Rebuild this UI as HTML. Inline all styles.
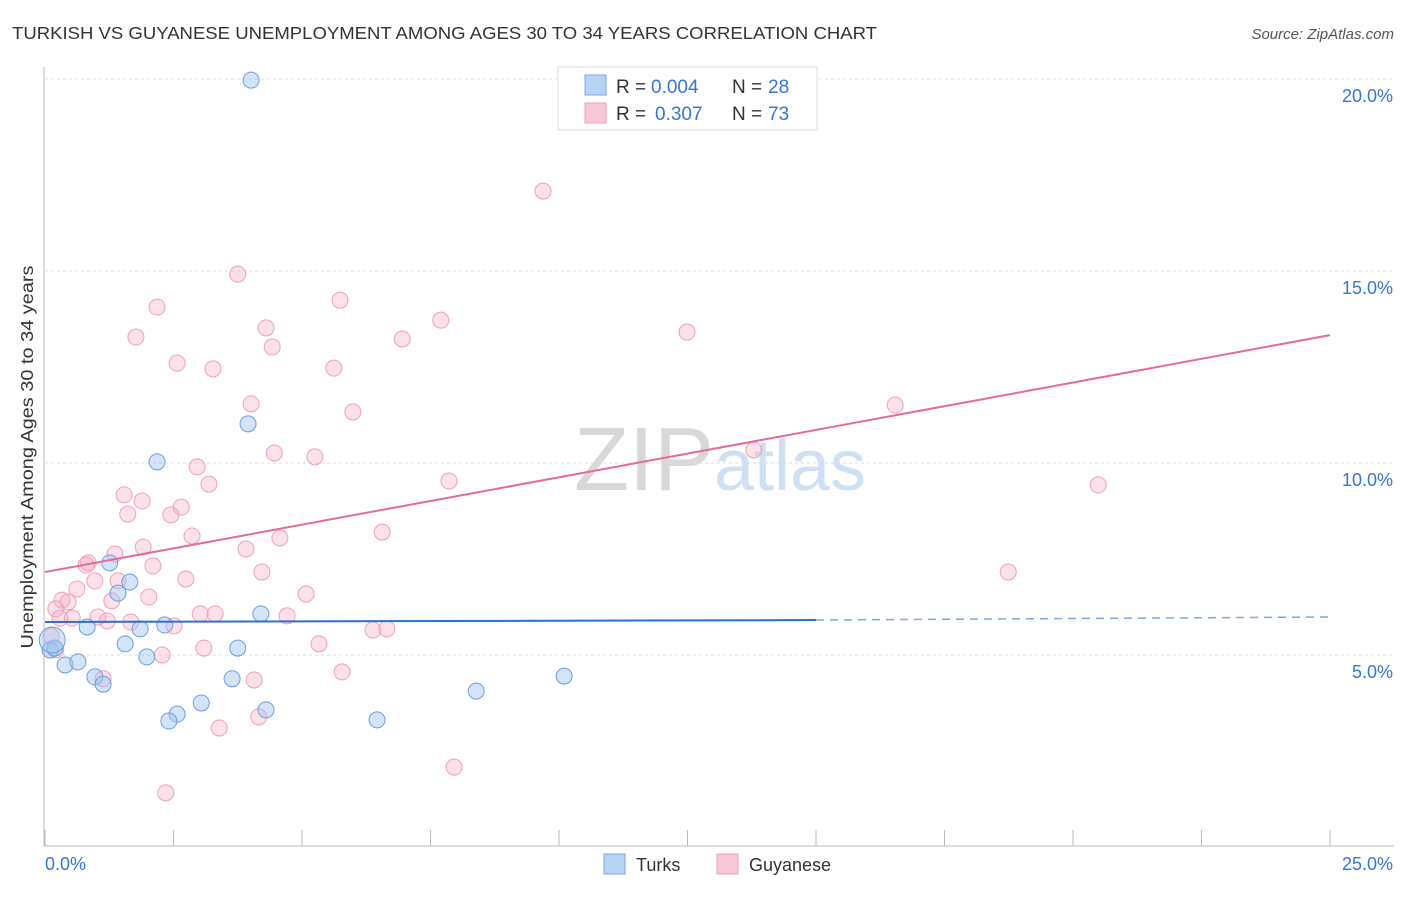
<!DOCTYPE html>
<html><head><meta charset="utf-8"><style>
body{margin:0;background:#fff;font-family:"Liberation Sans",sans-serif;}
svg text{font-family:"Liberation Sans",sans-serif;}
</style></head><body>
<svg id="chart" width="1406" height="892" xmlns="http://www.w3.org/2000/svg">
<text x="12" y="39" font-size="17.5" fill="#333" textLength="865" lengthAdjust="spacingAndGlyphs">TURKISH VS GUYANESE UNEMPLOYMENT AMONG AGES 30 TO 34 YEARS CORRELATION CHART</text>
<text x="1394" y="39" font-size="15" fill="#555" text-anchor="end" font-style="italic">Source: ZipAtlas.com</text>
<text x="720" y="490" font-size="90" text-anchor="middle" fill="#ddd" font-family="Liberation Serif"><tspan fill="#d8d8d8">ZIP</tspan><tspan fill="#cfe0f5" font-family="Liberation Sans" font-size="72">atlas</tspan></text>
<g id="grid"></g><g id="axes"></g><g id="marks"></g>
<text transform="translate(33,457) rotate(-90)" font-size="17.5" fill="#333" text-anchor="middle" textLength="383" lengthAdjust="spacingAndGlyphs">Unemployment Among Ages 30 to 34 years</text>
<g>
<rect x="558" y="67" width="259" height="63" fill="#fff" stroke="#ddd"/>
<rect x="585" y="75" width="21" height="20" fill="#b8d4f5" stroke="#7aa8e0"/>
<rect x="585" y="103" width="21" height="20" fill="#f9c8d6" stroke="#eea0b8"/>
<text x="616" y="93" font-size="19" fill="#333">R =</text>
<text x="651" y="93" font-size="19" fill="#3575d5">0.004</text>
<text x="732" y="93" font-size="19" fill="#333">N =</text>
<text x="768" y="93" font-size="19" fill="#3575d5">28</text>
<text x="616" y="120" font-size="19" fill="#333">R =</text>
<text x="655" y="120" font-size="19" fill="#3575d5">0.307</text>
<text x="732" y="120" font-size="19" fill="#333">N =</text>
<text x="768" y="120" font-size="19" fill="#3575d5">73</text>
</g>
<g>
<rect x="604" y="854" width="21" height="20" fill="#b8d4f5" stroke="#7aa8e0"/>
<text x="636" y="871" font-size="18" fill="#333">Turks</text>
<rect x="717" y="854" width="21" height="20" fill="#f9c8d6" stroke="#eea0b8"/>
<text x="749" y="871" font-size="18" fill="#333">Guyanese</text>
</g>
</svg>
<script>
const turksX=[4.01,3.95,2.18,1.26,1.65,1.42,0.82,1.85,2.33,4.20,1.56,3.75,1.98,0.10,0.19,0.39,0.64,0.97,1.13,3.64,3.04,2.57,2.41,4.30,6.46,8.39,10.10,0.14];
const turksY=[19.97,11.02,10.03,7.40,6.90,6.61,5.73,5.68,5.78,6.07,5.29,5.18,4.95,5.13,5.18,4.74,4.82,4.43,4.24,4.38,3.75,3.46,3.28,3.57,3.31,4.06,4.45,5.39];
const guyX=[9.69,3.75,2.18,5.74,1.77,4.30,7.70,12.49,4.42,6.95,2.57,3.27,5.62,4.01,5.99,16.54,13.79,4.46,5.25,2.96,7.86,3.19,20.49,1.54,1.89,2.65,1.61,2.45,6.56,2.86,4.57,3.91,1.91,1.36,0.84,0.80,2.10,4.22,18.74,2.74,0.97,0.62,1.42,2.02,5.08,0.33,0.45,1.30,0.21,3.02,3.31,4.71,0.29,1.03,0.53,1.21,1.67,2.51,6.38,6.65,0.12,0.21,5.33,3.09,2.28,5.78,1.13,4.07,4.16,3.39,7.96,2.35];
const guyY=[17.08,14.92,14.06,14.24,13.28,13.52,13.72,13.41,13.02,13.23,12.60,12.45,12.47,11.54,11.33,11.51,10.34,10.26,10.16,9.90,9.53,9.45,9.43,9.17,9.01,8.85,8.67,8.65,8.20,8.10,8.05,7.76,7.81,7.63,7.40,7.34,7.32,7.16,7.16,6.98,6.93,6.72,6.93,6.51,6.59,6.43,6.38,6.41,6.20,6.07,6.07,6.02,5.96,5.99,5.96,5.89,5.86,5.76,5.65,5.68,5.49,5.13,5.29,5.18,5.00,4.56,4.38,4.35,3.39,3.10,2.08,1.41];
const turksTrend=[5.86,5.91,5.99]; // at x=0, 15, 25
const guyTrend=[7.16,13.33]; // at x=0, 25
const yTicks=[5,10,15,20];
const yTickLabels=["5.0%","10.0%","15.0%","20.0%"];
const xTicks=[0,2.5,5,7.5,10,12.5,15,17.5,20,22.5,25];
const NS='http://www.w3.org/2000/svg';
const X=v=>45+v*51.4, Y=v=>847-v*38.4;
function mk(tag,attrs,parent){const e=document.createElementNS(NS,tag);for(const k in attrs)e.setAttribute(k,attrs[k]);document.getElementById(parent).appendChild(e);return e;}
yTicks.forEach((t,i)=>{
 const g=mk('line',{x1:45,x2:1394,y1:Y(t),y2:Y(t),stroke:'#ddd','stroke-dasharray':'3,3'},'grid');
 
 
 const l=mk('text',{x:1393,y:Y(t)+23,'font-size':18,fill:'#3575d5','text-anchor':'end'},'axes');
 l.textContent=yTickLabels[i];
 
 
});
const ax=mk('line',{x1:44,x2:44,y1:67,y2:846,stroke:'#bbb'},'axes');


const bx=mk('line',{x1:44,x2:1394,y1:846,y2:846,stroke:'#bbb'},'axes');


xTicks.forEach(t=>{const e=mk('line',{x1:X(t),x2:X(t),y1:830,y2:846,stroke:'#bbb'},'axes');
 
 });
const x0=mk('text',{x:45,y:870,'font-size':18,fill:'#3575d5'},'axes');x0.textContent='0.0%';


const x1=mk('text',{x:1393,y:870,'font-size':18,fill:'#3575d5','text-anchor':'end'},'axes');x1.textContent='25.0%';


guyX.forEach((x,i)=>{const c=mk('circle',{cx:X(x),cy:Y(guyY[i]),r:8,fill:'rgba(245,170,195,0.35)',stroke:'#eea0b8','stroke-width':1},'marks');
 
 });
turksX.forEach((x,i)=>{const c=mk('circle',{cx:X(x),cy:Y(turksY[i]),r:i==turksX.length-1?13:8,fill:'rgba(160,195,240,0.45)',stroke:'#6a9fe0','stroke-width':1},'marks');
 
 });
const pl=mk('line',{x1:X(0),y1:Y(guyTrend[0]),x2:X(25),y2:Y(guyTrend[1]),stroke:'#e56b98','stroke-width':2},'marks');


const bl=mk('line',{x1:X(0),y1:Y(turksTrend[0]),x2:X(15),y2:Y(turksTrend[1]),stroke:'#2a6fd6','stroke-width':2},'marks');


const bd=mk('line',{x1:X(15),y1:Y(turksTrend[1]),x2:X(25),y2:Y(turksTrend[2]),stroke:'#7aa8e0','stroke-width':1.5,'stroke-dasharray':'8,6'},'marks');


</script>
</body></html>
